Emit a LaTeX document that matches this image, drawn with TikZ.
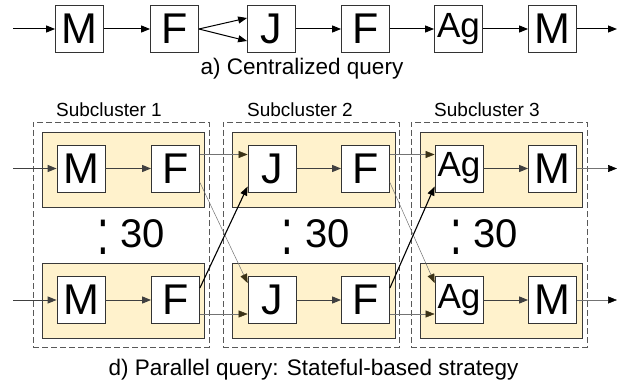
\documentclass[tikz,border=0pt]{standalone}
\usepackage{fontspec}
\setmainfont{Liberation Sans}
\usetikzlibrary{arrows.meta,calc}

\definecolor{groupfill}{HTML}{FFF2CC}
\definecolor{groupline}{HTML}{3A3A3A}
\definecolor{tipdark}{HTML}{3B3216}

\tikzset{
  opbox/.style={draw=black!80, fill=white, line width=0.8pt, inner sep=0pt,
    minimum width=48pt, minimum height=47pt, font=\fontsize{43}{43}\selectfont},
  agbox/.style={opbox, font=\fontsize{35}{35}\selectfont},
  grpbox/.style={draw=groupline, fill=groupfill, line width=0.8pt, inner sep=0pt,
    minimum height=75pt},
  clusbox/.style={draw=black!65, line width=0.9pt, dash pattern=on 6pt off 3pt,
    inner sep=0pt, minimum width=176pt, minimum height=225pt},
  flow/.style={line width=1pt, black, -{Triangle[length=9pt,width=7pt]}},
  thinflow/.style={line width=0.5pt, black!55,
    -{Triangle[length=9pt,width=7pt,color=tipdark]}},
  crossflow/.style={line width=1.1pt, black, -{Triangle[length=9pt,width=7pt]}},
  caption/.style={font=\fontsize{22.5}{22.5}\selectfont, anchor=base, inner sep=0pt},
  clabel/.style={font=\fontsize{19}{19}\selectfont, anchor=base, inner sep=0pt},
  count/.style={font=\fontsize{40}{40}\selectfont, anchor=base west, inner sep=0pt},
  dots/.style={font=\fontsize{42}{42}\selectfont, anchor=base, inner sep=0pt},
}
\newcommand{\tallcolon}{\scalebox{1}[1.55]{:}}

\begin{document}
\begin{tikzpicture}[x=1pt,y=-1pt]
\useasboundingbox (0,0) rectangle (617,387);

% ---------- a) centralized query ----------
\node[opbox] (cm1) at (79.5,29)  {M};
\node[opbox] (cf1) at (174.5,29) {F};
\node[opbox] (cj)  at (271.5,29) {J};
\node[opbox] (cf2) at (365.5,29) {F};
\node[agbox] (cag) at (458.5,29) {Ag};
\node[opbox] (cm2) at (552.5,29) {M};
\coordinate (cin)  at (13,29);
\coordinate (cout) at (617,29);

\draw[flow] (cin) -- (cm1);
\draw[flow] (cm1) -- (cf1);
\draw[flow] (cf1.east) -- ($(cj.west)+(0,-11)$);
\draw[flow] (cf1.east) -- ($(cj.west)+(0,12)$);
\draw[flow] (cj) -- (cf2);
\draw[flow] (cf2) -- (cag);
\draw[flow] (cag) -- (cm2);
\draw[flow] (cm2) -- (cout);

\node[caption] (capa) at (302,75) {a) Centralized query};

% ---------- d) parallel query ----------
\node[clusbox] (s1) at (121,234.5) {};
\node[clusbox] (s2) at (311,234.5) {};
\node[clusbox] (s3) at (499,234.5) {};

\node[clabel] (l1) at (109,117) {Subcluster 1};
\node[clabel] (l2) at (300,117) {Subcluster 2};
\node[clabel] (l3) at (487,117) {Subcluster 3};

\node[grpbox, minimum width=162pt] (g1t) at (123,169.5) {};
\node[grpbox, minimum width=162pt] (g1b) at (123,300.5) {};
\node[grpbox, minimum width=163pt] (g2t) at (313.5,169.5) {};
\node[grpbox, minimum width=163pt] (g2b) at (313.5,300.5) {};
\node[grpbox, minimum width=162pt] (g3t) at (501,169.5) {};
\node[grpbox, minimum width=162pt] (g3b) at (501,300.5) {};

% replica counts
\node[dots]  (d1) at (103,254) {\tallcolon};
\node[count] (n1) at (120,247) {30};
\node[dots]  (d2) at (287,254) {\tallcolon};
\node[count] (n2) at (305,247) {30};
\node[dots]  (d3) at (456,254) {\tallcolon};
\node[count] (n3) at (473,247) {30};

% operators, upper replica
\node[opbox] (tm1) at (81,168.5)  {M};
\node[opbox] (tf1) at (175.5,168.5) {F};
\node[opbox] (tj)  at (272,168.5) {J};
\node[opbox] (tf2) at (365.5,168.5) {F};
\node[agbox] (tag) at (459,168.5) {Ag};
\node[opbox] (tm2) at (552.5,168.5) {M};
% operators, lower replica
\node[opbox] (bm1) at (81,300)  {M};
\node[opbox] (bf1) at (175.5,300) {F};
\node[opbox] (bj)  at (272,300) {J};
\node[opbox] (bf2) at (365.5,300) {F};
\node[agbox] (bag) at (459,300) {Ag};
\node[opbox] (bm2) at (552.5,300) {M};

\coordinate (tin)  at (13,168.5);
\coordinate (bin)  at (13,300);
\coordinate (tout) at (617,168.5);
\coordinate (bout) at (617,300);

% inputs and local chains
\draw[flow, black!75] (tin) -- (tm1);
\draw[flow, black!75] (bin) -- (bm1);
\draw[flow, black!75] (tm1) -- (tf1);
\draw[flow, black!75] (bm1) -- (bf1);
\draw[flow, black!75] (tj) -- (tf2);
\draw[flow, black!75] (bj) -- (bf2);
\draw[flow, black!75] (tag) -- (tm2);
\draw[flow, black!75] (bag) -- (bm2);
\draw[thinflow, -{Triangle[length=9pt,width=7pt,color=black]}] (tm2) -- (tout);
\draw[thinflow, -{Triangle[length=9pt,width=7pt,color=black]}] (bm2) -- (bout);

% repartitioning between subclusters 1 and 2
\draw[thinflow]  ($(tf1.east)+(0,-14)$) -- ($(tj.west)+(0,-14)$);
\draw[thinflow]  ($(tf1.east)+(0,14)$)  -- ($(bj.west)+(0,-17)$);
\draw[crossflow] ($(bf1.east)+(0,-12)$) -- ($(tj.west)+(0,18)$);
\draw[thinflow]  ($(bf1.east)+(0,14)$)  -- ($(bj.west)+(0,14)$);

% repartitioning between subclusters 2 and 3
\draw[thinflow]  ($(tf2.east)+(0,-14)$) -- ($(tag.west)+(0,-14)$);
\draw[thinflow]  ($(tf2.east)+(0,14)$)  -- ($(bag.west)+(0,-17)$);
\draw[crossflow] ($(bf2.east)+(0,-12)$) -- ($(tag.west)+(0,18)$);
\draw[thinflow]  ($(bf2.east)+(0,14)$)  -- ($(bag.west)+(0,14)$);

\node[caption] (capd) at (313.5,375) {d) Parallel query: Stateful-based strategy};
\end{tikzpicture}
\end{document}
